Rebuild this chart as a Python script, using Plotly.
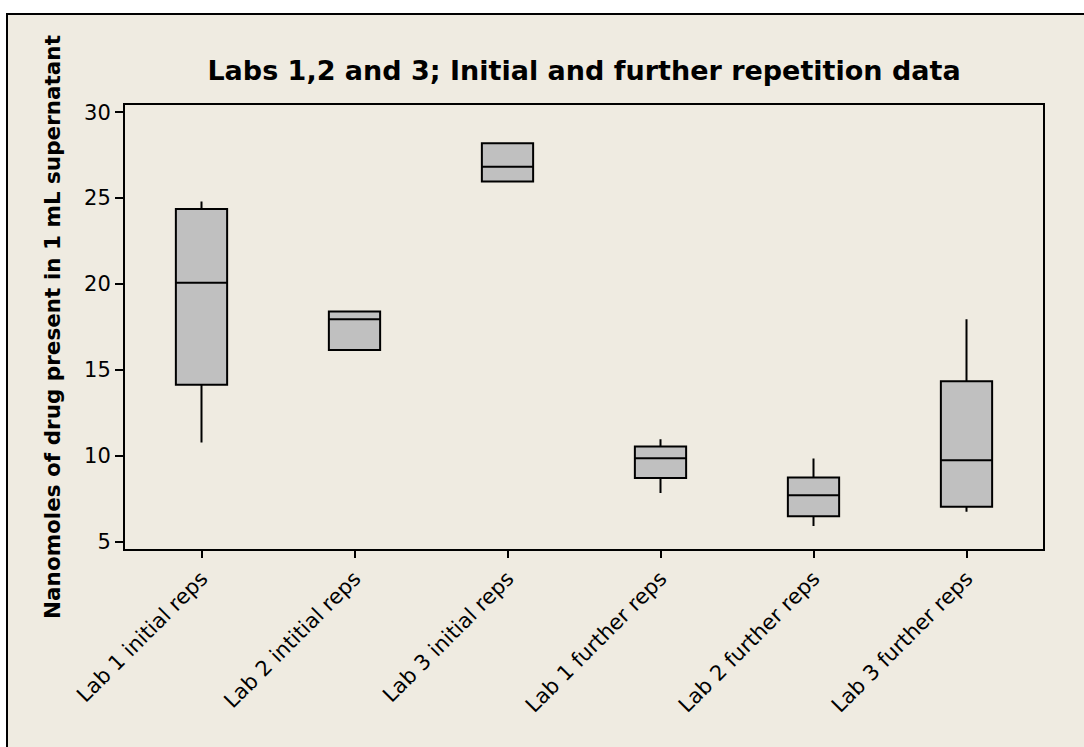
import plotly.graph_objects as go

categories = ["Lab 1 initial reps", "Lab 2 intitial reps", "Lab 3 initial reps",
              "Lab 1 further reps", "Lab 2 further reps", "Lab 3 further reps"]
lower_whisker = [10.77, 16.16, 25.96, 7.84, 5.92, 6.75]
q1_values = [14.13, 16.16, 25.96, 8.71, 6.48, 7.04]
medians = [20.08, 17.95, 26.83, 9.86, 7.71, 9.74]
q3_values = [24.37, 18.40, 28.20, 10.54, 8.73, 14.34]
upper_whisker = [24.80, 18.40, 28.20, 10.97, 9.84, 17.95]
y_ticks = [5, 10, 15, 20, 25, 30]

title_text = "Labs 1,2 and 3; Initial and further repetition data"
y_title = "Nanomoles of drug present in 1 mL supernatant"

W, H = 1084, 747
L, R, T, B = 125, 1043, 105, 549

fig = go.Figure()
fig.add_trace(go.Box(
    x=categories,
    q1=q1_values, median=medians, q3=q3_values,
    lowerfence=lower_whisker, upperfence=upper_whisker,
    fillcolor="#C0C0C0",
    line=dict(color="black", width=2),
    whiskerwidth=0,
    width=0.335,
    boxpoints=False,
    showlegend=False,
    hoverinfo="skip",
))

pw, ph = R - L, B - T
fx0, fx1 = (7 - L) / pw, (1120 - L) / pw
fy0, fy1 = (B - 790) / ph, (B - 14) / ph
fig.add_shape(type="rect", xref="paper", yref="paper", layer="below",
              x0=fx0, x1=fx1, y0=fy0, y1=fy1,
              fillcolor="#EFEBE1", line=dict(width=0))
fig.add_shape(type="path", xref="paper", yref="paper", layer="below",
              path=f"M {fx0},{fy0} L {fx0},{fy1} L {fx1},{fy1}",
              line=dict(color="black", width=2))

fig.update_layout(
    width=W, height=H,
    margin=dict(l=L, r=W - R, t=T, b=H - B, pad=0),
    paper_bgcolor="white",
    plot_bgcolor="white",
    font=dict(family="DejaVu Sans", color="black"),
    title=dict(text="<b>" + title_text + "</b>", x=(L + R) / 2 / W, xanchor="center",
               xref="container", yref="container", y=1 - 71 / H, yanchor="middle",
               font=dict(size=27, family="DejaVu Sans", color="black")),
)
fig.update_xaxes(
    type="category", range=[-0.5, 5.5],
    showline=True, linecolor="black", linewidth=2, mirror=True,
    ticks="outside", ticklen=7, tickcolor="black", tickwidth=1.5,
    tickangle=-45, tickfont=dict(size=21, family="DejaVu Sans", color="black"),
    showgrid=False, zeroline=False,
)
fig.update_yaxes(
    range=[4.575, 30.42], tickvals=y_ticks,
    showline=True, linecolor="black", linewidth=2, mirror=True,
    ticks="outside", ticklen=8, tickcolor="black", tickwidth=1.5,
    tickfont=dict(size=21, family="DejaVu Sans", color="black"),
    showgrid=False, zeroline=False,
    title=dict(text="<b>" + y_title + "</b>", standoff=18,
               font=dict(size=21.5, family="DejaVu Sans", color="black")),
)

fig.write_html("out.html")
